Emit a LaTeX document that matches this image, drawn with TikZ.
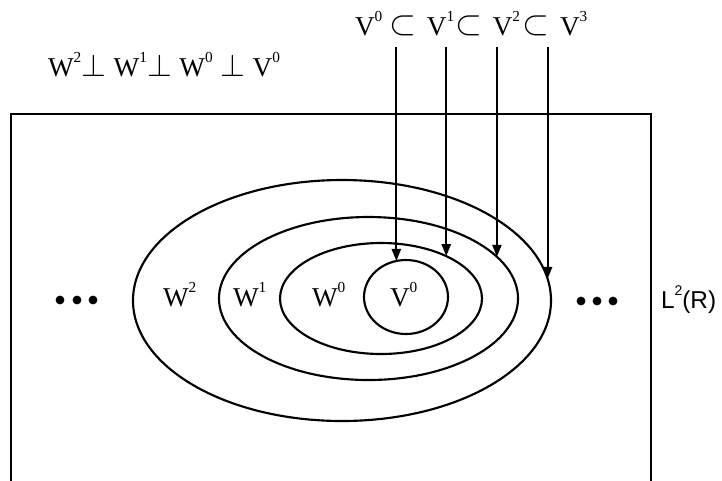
\documentclass[tikz,border=0pt]{standalone}
\usepackage{fontspec}
\setmainfont{Liberation Serif}
\newfontfamily\arialf{Liberation Sans}
\usetikzlibrary{shapes.geometric,arrows.meta}
\newcommand\spx[1]{\raisebox{0.5em}{\fontsize{11.5}{12}\selectfont #1}}
\newcommand\ssub{\raisebox{0.02em}{\scalebox{1.25}{$\subset$}}}
\newcommand\pperp{\scalebox{1.15}{$\perp$}}
\begin{document}
\begin{tikzpicture}[x=0.75pt,y=-0.75pt,
  every node/.style={inner sep=0pt, outer sep=0pt},
  lbl/.style={font=\fontsize{20.4}{24}\selectfont, anchor=base west},
  ring/.style={draw, ellipse, line width=1.6pt},
  arr/.style={line width=1.6pt, -{Triangle[length=9pt,width=6.8pt]}},
  bigdot/.style={circle, fill, minimum size=6.6pt}]
\useasboundingbox (0,0) rectangle (722,480);
% frame of L^2(R)
\draw[line width=1.9pt] (11,484) -- (11,114) -- (651,114) -- (651,484);
% texts at the top
\node[lbl] (chain) at (355,35) {V\spx{0}\hspace{0.25em}\ssub\hspace{0.4em}V\spx{1}\hspace{0.03em}\ssub\hspace{0.4em}V\spx{2}\hspace{0.08em}\ssub\hspace{0.4em}V\spx{3}};
\node[lbl] (perp) at (48,76) {W\spx{2}\pperp\hspace{0.28em}W\spx{1}\pperp\hspace{0.28em}W\spx{0}\hspace{0.28em}\pperp\hspace{0.28em}V\spx{0}};
% nested ellipses
\node[ring, minimum width=313.5pt, minimum height=180.75pt] (w2) at (342,300.5) {};
\node[ring, minimum width=224.25pt, minimum height=122.25pt] (w1) at (368.5,298.5) {};
\node[ring, minimum width=151.5pt, minimum height=83.25pt] (w0) at (381,298.5) {};
\node[ring, minimum width=63pt, minimum height=55.5pt] (v0) at (406,297) {};
% labels
\node[lbl] (lw2) at (163,306) {W\spx{2}};
\node[lbl] (lw1) at (233,306) {W\spx{1}};
\node[lbl] (lw0) at (312,306) {W\spx{0}};
\node[lbl] (lv0) at (390,306) {V\spx{0}};
% dots
\node[bigdot] (dl1) at (60,300) {};
\node[bigdot] (dl2) at (77,300) {};
\node[bigdot] (dl3) at (93,300) {};
\node[bigdot] (dr1) at (581,301) {};
\node[bigdot] (dr2) at (597,301) {};
\node[bigdot] (dr3) at (613,301) {};
\node[font=\arialf\fontsize{18.3}{22}\selectfont, anchor=base west] (l2r) at (661,308) {L\raisebox{0.5em}{\fontsize{10.5}{11}\selectfont 2}(R)};
% arrows
\coordinate (top) at (0,47);
\draw[arr] (v0.105 |- top) -- (v0.105);
\draw[arr] (w0.33 |- top) -- (w0.33);
\draw[arr] (w1.18 |- top) -- (w1.18);
\draw[arr] (w2.6 |- top) -- (w2.6);
\end{tikzpicture}
\end{document}
